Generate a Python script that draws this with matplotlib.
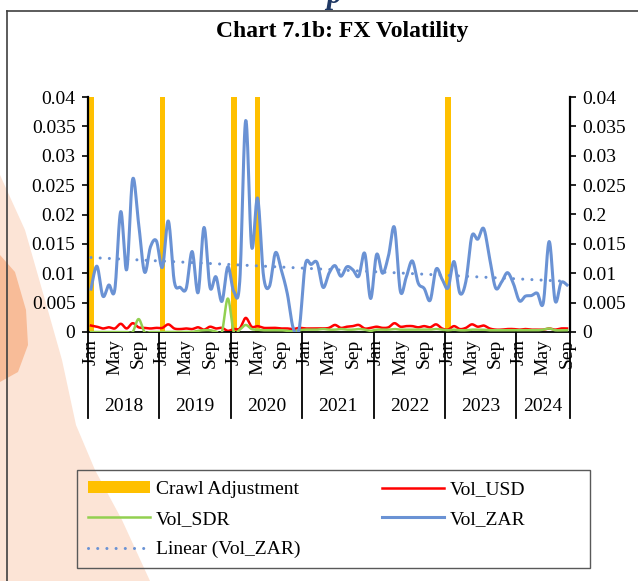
import numpy as np
import matplotlib
matplotlib.use('Agg')
import matplotlib.pyplot as plt
import matplotlib.transforms as mtransforms
from matplotlib.patches import Polygon, Rectangle, Patch
from matplotlib.lines import Line2D

plt.rcParams['font.family'] = ['Liberation Serif', 'DejaVu Serif']

# ---- data (monthly, Jan 2018 .. Sep 2024) ----
years = ['2018', '2019', '2020', '2021', '2022', '2023', '2024']
months_per_year = [12, 12, 12, 12, 12, 12, 9]
month_names = ['Jan', 'Feb', 'Mar', 'Apr', 'May', 'Jun',
               'Jul', 'Aug', 'Sep', 'Oct', 'Nov', 'Dec']

vol_zar = [
    0.0073, 0.0112, 0.0061, 0.0080, 0.0072, 0.0205, 0.0106, 0.0260, 0.0185, 0.0102, 0.0145, 0.0155,
    0.0110, 0.0189, 0.0086, 0.0076, 0.0074, 0.0137, 0.0067, 0.0178, 0.0076, 0.0094, 0.0052, 0.0111,
    0.0069, 0.0086, 0.0360, 0.0145, 0.0228, 0.0095, 0.0078, 0.0135, 0.0105, 0.0065, 0.0006, 0.0006,
    0.0114, 0.0115, 0.0118, 0.0076, 0.0100, 0.0113, 0.0095, 0.0111, 0.0106, 0.0095, 0.0134, 0.0057,
    0.0132, 0.0100, 0.0130, 0.0178, 0.0069, 0.0094, 0.0121, 0.0083, 0.0074, 0.0054, 0.0107, 0.0090,
    0.0075, 0.0120, 0.0066, 0.0086, 0.0163, 0.0158, 0.0176, 0.0125, 0.0075, 0.0085, 0.0101, 0.0082,
    0.0053, 0.0061, 0.0062, 0.0066, 0.0049, 0.0154, 0.0053, 0.0084, 0.0080,
]
vol_usd = [
    0.0011, 0.0009, 0.0006, 0.0008, 0.0006, 0.0014, 0.0006, 0.0015, 0.0008, 0.0007, 0.0006, 0.0007,
    0.0007, 0.0013, 0.0006, 0.0005, 0.0006, 0.0005, 0.0008, 0.0004, 0.0009, 0.0006, 0.0007, 0.0002,
    0.0005, 0.0006, 0.0024, 0.0009, 0.0010, 0.0007, 0.0007, 0.0007, 0.0006, 0.0006, 0.0005, 0.0007,
    0.0006, 0.0006, 0.0006, 0.0006, 0.0007, 0.0012, 0.0007, 0.0009, 0.0010, 0.0012, 0.0006, 0.0007,
    0.0009, 0.0007, 0.0008, 0.0015, 0.0009, 0.0010, 0.0010, 0.0008, 0.0010, 0.0008, 0.0013, 0.0006,
    0.0004, 0.0010, 0.0005, 0.0007, 0.0013, 0.0009, 0.0011, 0.0006, 0.0004, 0.0004, 0.0005, 0.0005,
    0.0004, 0.0005, 0.0004, 0.0004, 0.0004, 0.0006, 0.0004, 0.0006, 0.0006,
]
vol_sdr = [
    0.0, 0.0, 0.0, 0.0, 0.0, 0.0, 0.0, 0.0, 0.0022, 0.0, 0.0, 0.0,
    0.0, 0.0, 0.0, 0.0, 0.0, 0.0, 0.0002, 0.0003, 0.0003, 0.0001, 0.0, 0.0057,
    0.0, 0.0004, 0.0012, 0.0005, 0.0004, 0.0003, 0.0003, 0.0003, 0.0003, 0.0002, 0.0001, 0.0003,
    0.0004, 0.0004, 0.0004, 0.0005, 0.0004, 0.0004, 0.0005, 0.0004, 0.0004, 0.0005, 0.0004, 0.0002,
    0.0004, 0.0004, 0.0004, 0.0005, 0.0004, 0.0004, 0.0004, 0.0004, 0.0004, 0.0004, 0.0005, 0.0004,
    0.0003, 0.0004, 0.0003, 0.0003, 0.0004, 0.0004, 0.0004, 0.0003, 0.0003, 0.0003, 0.0003, 0.0003,
    0.0003, 0.0003, 0.0003, 0.0003, 0.0004, 0.0006, 0.0003, 0.0003, 0.0003,
]
crawl_dates = [('2018', 'Jan'), ('2019', 'Jan'), ('2020', 'Jan'), ('2020', 'May'), ('2023', 'Jan')]
crawl_level = 0.04

left_labels = ['0', '0.005', '0.01', '0.015', '0.02', '0.025', '0.03', '0.035', '0.04']
right_labels = ['0', '0.005', '0.01', '0.015', '0.2', '0.025', '0.03', '0.035', '0.04']
y_ticks = [0, 0.005, 0.01, 0.015, 0.02, 0.025, 0.03, 0.035, 0.04]

# month index helpers
cats = []
for yr, n in zip(years, months_per_year):
    for m in month_names[:n]:
        cats.append((yr, m))
x = np.arange(len(cats))
crawl_idx = [cats.index(c) for c in crawl_dates]


def smooth(vals, n=16):
    # Excel-style smoothed line (bezier through points)
    p = np.column_stack([x, vals]).astype(float)
    out = []
    for k in range(len(p) - 1):
        p0 = p[max(k - 1, 0)]
        p1 = p[k]
        p2 = p[k + 1]
        p3 = p[min(k + 2, len(p) - 1)]
        c1 = p1 + (p2 - p0) / 6
        c2 = p2 - (p3 - p1) / 6
        t = np.linspace(0, 1, n)[:, None]
        seg = ((1 - t) ** 3) * p1 + 3 * ((1 - t) ** 2) * t * c1 + 3 * (1 - t) * t ** 2 * c2 + t ** 3 * p2
        out.append(seg if k == 0 else seg[1:])
    out = np.vstack(out)
    return out[:, 0], out[:, 1]


W, H = 638, 581


def fx(px):
    return px / W


def fy(py):
    return 1 - py / H


fig = plt.figure(figsize=(W / 100, H / 100), dpi=100)

# background shapes of the page behind the chart
fig.patches.append(Polygon([(fx(0), fy(175)), (fx(25), fy(230)), (fx(45), fy(300)), (fx(62), fy(360)),
                            (fx(76), fy(425)), (fx(95), fy(470)), (fx(122), fy(520)), (fx(150), fy(581)),
                            (fx(0), fy(581))], closed=True, transform=fig.transFigure,
                           facecolor='#FCE4D6', edgecolor='none', zorder=-10))
fig.patches.append(Polygon([(fx(0), fy(255)), (fx(15), fy(272)), (fx(26), fy(310)), (fx(28), fy(345)),
                            (fx(18), fy(372)), (fx(0), fy(382))], closed=True, transform=fig.transFigure,
                           facecolor='#F8BC98', edgecolor='none', zorder=-9))

# chart border + stray glyph of the page above
fig.add_artist(Line2D([fx(7), 1.0], [fy(11), fy(11)], transform=fig.transFigure, color='#404040', lw=1.2))
fig.add_artist(Line2D([fx(7), fx(7)], [fy(11), 0.0], transform=fig.transFigure, color='#404040', lw=1.2))
fig.text(fx(326), fy(3), 'p', fontsize=22, style='italic', weight='bold', color='#1F3864',
         ha='left', va='baseline')

ax = fig.add_axes([fx(88), fy(332), fx(570) - fx(88), fy(97) - fy(332)])
ax.set_facecolor('none')

ax.bar(crawl_idx, [crawl_level] * len(crawl_idx), width=0.95, color='#FFC000', zorder=1)
ax.plot(*smooth(vol_usd), color='#FF0000', lw=1.8, zorder=2)
ax.plot(*smooth(vol_sdr), color='#92D050', lw=1.8, zorder=3)
ax.plot(*smooth(vol_zar), color='#6A92D4', lw=2.2, zorder=4)

# linear trend of Vol_ZAR
z = np.polyfit(x, vol_zar, 1)
ax.plot(x, np.polyval(z, x), color='#6A92D4', lw=2.2, linestyle=(0, (0.01, 3.0)),
        dash_capstyle='round', zorder=5)

ax.set_xlim(-0.5, len(cats) - 0.5)
ax.set_ylim(0, 0.04)

for s in ['top', 'right']:
    ax.spines[s].set_visible(False)
ax.spines['left'].set_linewidth(1.6)
ax.spines['bottom'].set_linewidth(1.3)

ax.set_yticks(y_ticks)
ax.set_yticklabels(left_labels)
ax.tick_params(axis='y', direction='out', length=4, width=1.2, pad=5, labelsize=14)

tick_pos = [i for i, c in enumerate(cats) if c[1] in ('Jan', 'May', 'Sep')]
ax.set_xticks(tick_pos)
ax.set_xticklabels([cats[i][1] for i in tick_pos], rotation=90, fontsize=14)
ax.tick_params(axis='x', length=0, pad=5)

ax2 = ax.twinx()
ax2.set_ylim(0, 0.04)
for s in ['top', 'left', 'bottom']:
    ax2.spines[s].set_visible(False)
ax2.spines['right'].set_linewidth(1.6)
ax2.set_yticks(y_ticks)
ax2.set_yticklabels(right_labels)
ax2.tick_params(axis='y', direction='out', length=4, width=1.2, pad=5, labelsize=14)

# year grouping under the month labels
trans = mtransforms.blended_transform_factory(ax.transData, ax.transAxes)
start = 0
bounds = [-0.5]
for yr, n in zip(years, months_per_year):
    ax.text(start + n / 2 - 0.5, -0.315, yr, transform=trans, ha='center', va='center', fontsize=14)
    start += n
    bounds.append(start - 0.5)
for b in bounds:
    ax.plot([b, b], [0, -0.366], transform=trans, color='black', lw=1.3, clip_on=False)

fig.text(fx(342), fy(31), 'Chart 7.1b: FX Volatility', ha='center', va='center',
         fontsize=17, weight='bold')

# legend (row order as in the original)
handles = [
    Patch(facecolor='#FFC000', edgecolor='none'),
    Line2D([], [], color='#92D050', lw=1.8),
    Line2D([], [], color='#6A92D4', lw=2.2, linestyle=(0, (0.01, 3.0)), dash_capstyle='round'),
    Line2D([], [], color='#FF0000', lw=1.8),
    Line2D([], [], color='#6A92D4', lw=2.2),
]
labels = ['Crawl Adjustment', 'Vol_SDR', 'Linear (Vol_ZAR)', 'Vol_USD', 'Vol_ZAR']
fig.legend(handles, labels, loc='upper left', bbox_to_anchor=(fx(88), fy(481)), ncol=2,
           frameon=False, fontsize=14, handlelength=3.2, handleheight=0.55, handletextpad=0.3,
           columnspacing=4.2, labelspacing=0.66, borderpad=0, borderaxespad=0)
fig.patches.append(Rectangle((fx(77), fy(568)), fx(590) - fx(77), fy(470) - fy(568),
                             transform=fig.transFigure, fill=False, edgecolor='#595959', lw=1.0))

fig.savefig('out.png', dpi=100)
